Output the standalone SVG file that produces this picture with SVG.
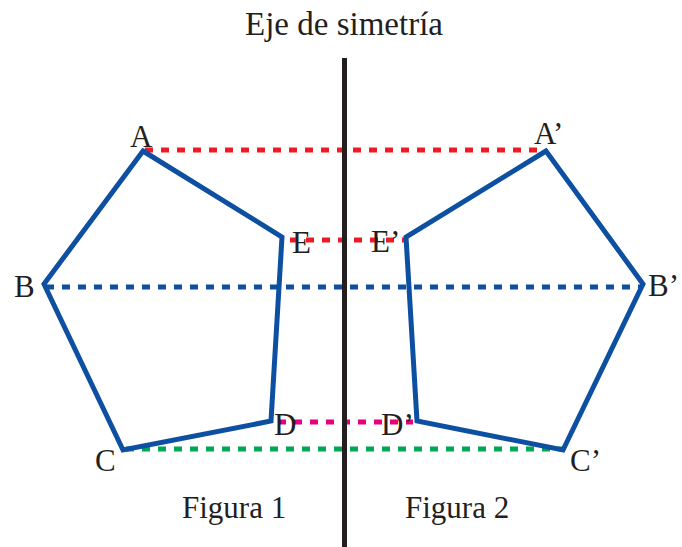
<svg xmlns="http://www.w3.org/2000/svg" width="682" height="547" viewBox="0 0 682 547">
<style>
text{font-family:"Liberation Serif","DejaVu Serif",serif;fill:#231f20;font-size:31px}
text.title{font-size:33px}
.poly{fill:none;stroke:#0d4fa0;stroke-width:5;stroke-linejoin:miter}
.dash{stroke-width:5;stroke-dasharray:8 8;fill:none}
</style>
<rect width="682" height="547" fill="#ffffff"/>
<g id="connectors">
<line class="dash" x1="145" y1="150" x2="537" y2="150" stroke="#ed1c24"/>
<line class="dash" x1="290" y1="240" x2="406" y2="240" stroke="#ed1c24"/>
<line class="dash" x1="46" y1="287" x2="643" y2="287" stroke="#0d4fa0"/>
<line class="dash" x1="278" y1="422" x2="413" y2="422" stroke="#e6007e"/>
<line class="dash" x1="126" y1="449" x2="563" y2="449" stroke="#00a651"/>
</g>
<g id="axis">
<line x1="344.5" y1="58" x2="344.5" y2="547" stroke="#231f20" stroke-width="5"/>
<text class="title" x="344" y="35" text-anchor="middle">Eje de simetría</text>
</g>
<g id="figura1">
<polygon class="poly" points="143,151 282,237 271,421 123,450 44,284"/>
<text x="130" y="147">A</text>
<text x="292" y="253">E</text>
<text x="14" y="297">B</text>
<text x="95" y="471">C</text>
<text x="274" y="435">D</text>
<text x="182" y="518">Figura 1</text>
</g>
<g id="figura2">
<polygon class="poly" points="546,151 406,237 417,421 563,450 643,284"/>
<text x="534" y="144">A’</text>
<text x="371" y="252">E’</text>
<text x="648" y="296">B’</text>
<text x="570" y="471">C’</text>
<text x="381" y="435">D’</text>
<text x="405" y="518">Figura 2</text>
</g>
</svg>
